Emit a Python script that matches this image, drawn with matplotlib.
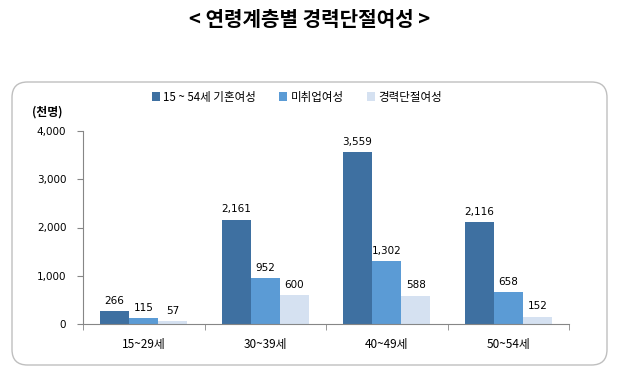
import matplotlib
matplotlib.use("Agg")
import matplotlib.pyplot as plt
from matplotlib.patches import FancyBboxPatch
import numpy as np

plt.rcParams['font.family'] = ['Noto Sans CJK KR', 'DejaVu Sans']

categories = ["15~29세", "30~39세", "40~49세", "50~54세"]
series_names = ["15 ~ 54세 기혼여성", "미취업여성", "경력단절여성"]
married = [266, 2161, 3559, 2116]
unemployed = [115, 952, 1302, 658]
career_break = [57, 600, 588, 152]
yticks = [0, 1000, 2000, 3000, 4000]
ytick_labels = ["0", "1,000", "2,000", "3,000", "4,000"]
colors = ["#3E70A1", "#5B9BD5", "#D5E1F1"]

W, H = 620, 383
fig = plt.figure(figsize=(W/100, H/100), dpi=100)

# rounded frame
box = FancyBboxPatch((12/W, 1-365/H), (607-12)/W, (365-82)/H,
                     boxstyle="round,pad=0,rounding_size=0.025",
                     transform=fig.transFigure, facecolor="white",
                     edgecolor="#BFBFBF", linewidth=1.0, mutation_aspect=W/H,
                     zorder=0)
fig.patches.append(box)

fig.text(0.5, 1-20/H, "< 연령계층별 경력단절여성 >", ha="center", va="center",
         fontsize=14.5, fontweight="bold")

ax = fig.add_axes([83/W, 1-324/H, (569-83)/W, (324-131)/H])
ax.set_zorder(2)
ax.patch.set_visible(False)
x = np.arange(len(categories))
bw = 0.24
all_series = [married, unemployed, career_break]
for i, (vals, c, name) in enumerate(zip(all_series, colors, series_names)):
    pos = x + (i-1)*bw
    ax.bar(pos, vals, width=bw, color=c, label=name, zorder=2)
    for p, v in zip(pos, vals):
        ax.text(p, v + 110, f"{v:,}", ha="center", va="bottom", fontsize=7.5,
                family=['DejaVu Sans'])

ax.set_xlim(-0.5, len(categories)-0.5)
ax.set_ylim(0, 4000)
ax.set_yticks(yticks)
ax.set_yticklabels(ytick_labels, fontsize=7.5, family=['DejaVu Sans'])
ax.set_xticks(x)
ax.set_xticklabels(categories, fontsize=8.5)
ax.set_xticks(np.arange(len(categories)+1)-0.5, minor=True)
ax.tick_params(axis='x', which='major', length=0, pad=10)
ax.tick_params(axis='x', which='minor', length=4, color="#868686", direction='out')
ax.tick_params(axis='y', length=4, color="#868686", pad=8)
for s in ["top", "right"]:
    ax.spines[s].set_visible(False)
for s in ["left", "bottom"]:
    ax.spines[s].set_color("#868686")
    ax.spines[s].set_linewidth(0.8)

fig.text(47/W, 1-112/H, "(천명)", ha="center", va="center", fontsize=8.5, fontweight="bold")

leg = fig.legend(loc="center", bbox_to_anchor=(297/W, 1-97/H), ncol=3, frameon=False,
                 fontsize=8.3, handlelength=0.7, handleheight=0.7, handletextpad=0.3,
                 columnspacing=2.0)
leg.set_zorder(3)

fig.savefig("out.png", dpi=100)
